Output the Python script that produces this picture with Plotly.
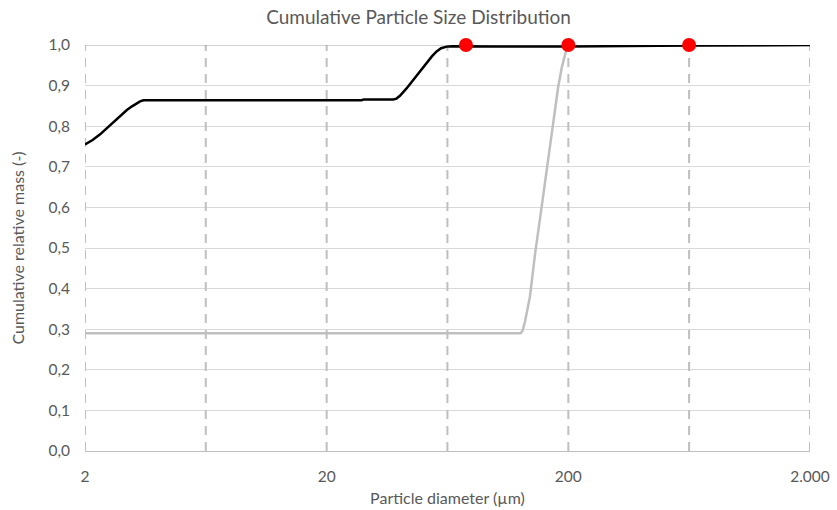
import plotly.graph_objects as go

# Black curve (fine fraction)
black_x = [2.0, 2.15, 2.31, 2.46, 2.62, 2.80, 2.98, 3.13, 3.27, 3.38, 3.49, 10.0, 27.9, 28.5, 37.7,
           38.9, 40.2, 42.8, 45.6, 48.6, 51.8, 54.5, 57.0, 59.5, 62.8, 66.0, 100.0, 200.0, 632.0, 2000.0]
black_y = [0.755, 0.766, 0.780, 0.795, 0.811, 0.826, 0.840, 0.849, 0.856, 0.861, 0.864, 0.864, 0.864, 0.866, 0.866,
           0.868, 0.875, 0.893, 0.914, 0.937, 0.957, 0.972, 0.984, 0.992, 0.996, 0.997, 0.996, 0.996, 0.999, 1.0]

# Gray curve (coarse fraction)
gray_x = [2.0, 127.0, 129.5, 132.5, 138.7, 146.0, 155.0, 161.5, 168.0, 175.0, 181.6, 188.0, 193.6, 197.0, 200.0,
          632.0, 2000.0]
gray_y = [0.29, 0.29, 0.297, 0.32, 0.38, 0.49, 0.60, 0.68, 0.75, 0.83, 0.897, 0.945, 0.978, 0.993, 1.0,
          0.998, 1.0]

# Red marker points
dot_x = [75.4, 200.0, 632.0]
dot_y = [1.0, 1.0, 1.0]

# Dashed vertical drop lines
drop_x = [2.0, 6.32, 20.0, 63.2, 200.0, 632.0, 2000.0]

# Ticks
x_tickvals = [2, 20, 200, 2000]
x_ticktext = ["2", "20", "200", "2.000"]
y_tickvals = [0.0, 0.1, 0.2, 0.3, 0.4, 0.5, 0.6, 0.7, 0.8, 0.9, 1.0]

FONT = "Lato"
TXT = "#595959"

dx, dy = [], []
for v in drop_x:
    dx += [v, v, None]
    dy += [0.0, 1.0, None]

fig = go.Figure()
fig.add_trace(go.Scatter(x=dx, y=dy, mode="lines", hoverinfo="skip",
                         line=dict(color="#BFBFBF", width=2, dash="9px,7px"),
                         showlegend=False))
fig.add_trace(go.Scatter(x=[2.0, 2000.0], y=[1.0, 1.0], mode="lines", hoverinfo="skip",
                         line=dict(color="#A6A6A6", width=1.2), showlegend=False))
fig.add_trace(go.Scatter(x=gray_x, y=gray_y, mode="lines",
                         line=dict(color="#BFBFBF", width=2.5),
                         showlegend=False))
fig.add_trace(go.Scatter(x=black_x, y=black_y, mode="lines",
                         line=dict(color="#000000", width=2.5),
                         showlegend=False))
fig.add_trace(go.Scatter(x=dot_x, y=dot_y, mode="markers", cliponaxis=False,
                         marker=dict(color="#FF0000", size=14), showlegend=False))

fig.update_layout(
    width=837, height=510,
    margin=dict(l=85, r=27, t=45, b=59),
    paper_bgcolor="white", plot_bgcolor="white",
    separators=",.",
    font=dict(family=FONT, color=TXT, size=16),
    title=dict(text="Cumulative Particle Size Distribution", x=0.5, xanchor="center",
               y=0.98, yanchor="top", font=dict(family=FONT, size=19, color=TXT)),
)
fig.update_xaxes(type="log", range=[0.30103, 3.30103], automargin=False,
                 tickvals=x_tickvals, ticktext=x_ticktext,
                 showgrid=False, zeroline=False,
                 showline=True, linecolor="#BFBFBF", linewidth=1.2,
                 ticks="", ticklen=0, ticklabelstandoff=11, tickfont=dict(size=15.5, color=TXT),
                 title=dict(text="Particle diameter (µm)", font=dict(size=16, color=TXT), standoff=9))
fig.update_yaxes(range=[0, 1.0], tickvals=y_tickvals, tickformat=".1f", automargin=False,
                 showgrid=True, gridcolor="#D9D9D9", gridwidth=1,
                 zeroline=False, showline=False, ticks="", ticklabelstandoff=14,
                 tickfont=dict(size=15.5, color=TXT),
                 title=dict(text="Cumulative relative mass (-)", font=dict(size=16, color=TXT), standoff=19))

fig.write_html("out.html")
